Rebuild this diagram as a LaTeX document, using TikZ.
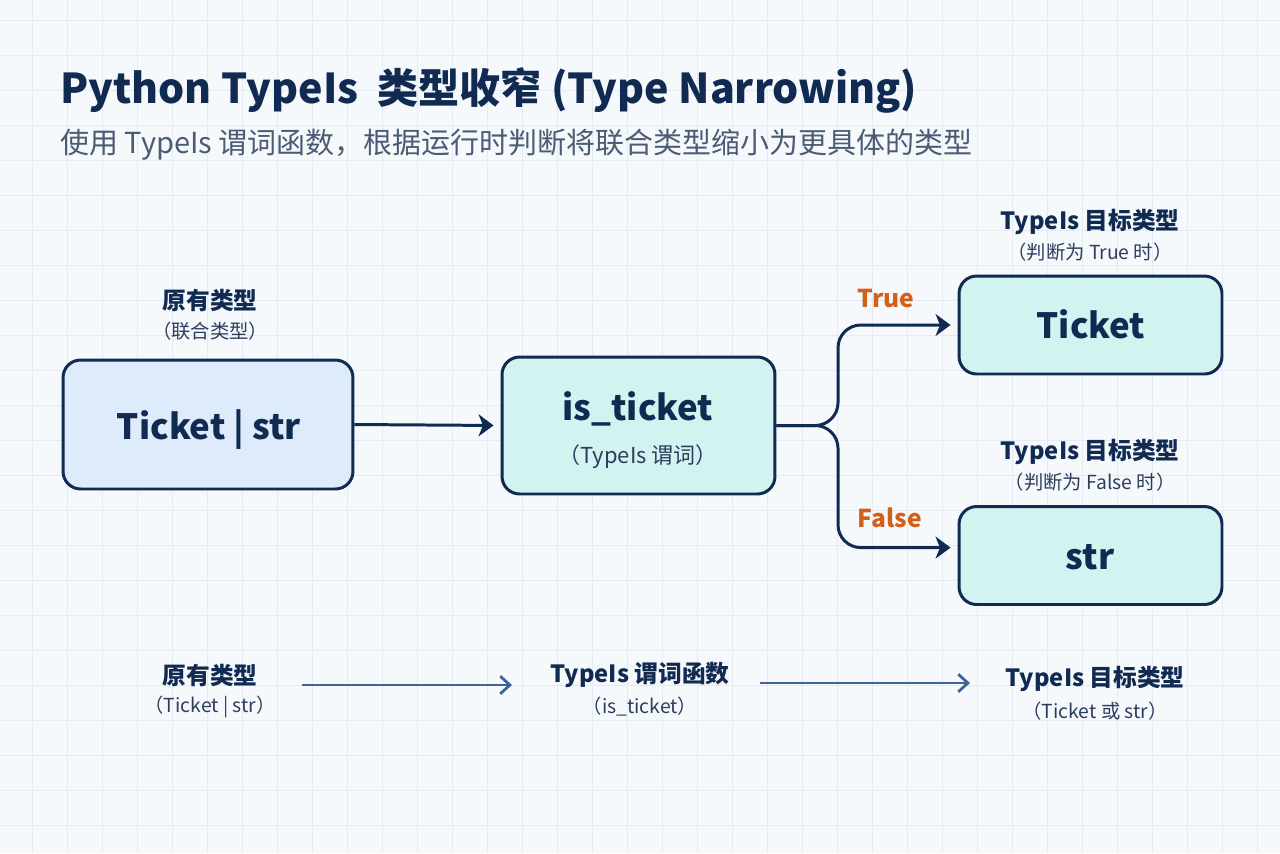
\documentclass[tikz,border=0pt]{standalone}
\usepackage{fontspec}
\setmainfont{Noto Sans CJK SC}
\usetikzlibrary{arrows.meta}
\definecolor{navy}{HTML}{102A52}
\definecolor{subgray}{HTML}{4B5B74}
\definecolor{notegray}{HTML}{2C3E5E}
\definecolor{bluefill}{HTML}{DDEBFB}
\definecolor{cyanfill}{HTML}{D3F3F1}
\definecolor{orangetxt}{HTML}{D2601A}
\definecolor{flowblue}{HTML}{42639A}
\definecolor{bgcol}{HTML}{F6F9FC}
\definecolor{gridcol}{HTML}{E4EBF4}

\begin{document}
\begin{tikzpicture}[x=0.02cm,y=-0.02cm]
        \tikzset{box/.style={draw=navy,line width=1.7pt,rounded corners=10pt,inner sep=0pt},
            typebox/.style={box,fill=bluefill,minimum width=5.8cm,minimum height=2.58cm},
            predbox/.style={box,fill=cyanfill,minimum width=5.46cm,minimum height=2.74cm},
            targetbox/.style={box,fill=cyanfill,minimum width=5.26cm,minimum height=1.96cm},
            boxtext/.style={text=navy,font=\fontsize{19.8}{24}\selectfont\bfseries,inner sep=0pt},
            head/.style={text=navy,font=\fontsize{13.5}{16}\selectfont\bfseries,inner sep=0pt},
            note/.style={text=notegray,font=\fontsize{11}{13}\selectfont,inner sep=0pt},
            branch/.style={text=orangetxt,font=\fontsize{14}{16}\selectfont\bfseries,inner sep=0pt},
            flow/.style={draw=navy,line width=1.7pt,-{Stealth[length=8.5pt,width=12.5pt,inset=2.5pt]}},
            thinflow/.style={draw=flowblue,line width=1.6pt,-{Straight Barb[length=5.5pt,width=10pt,line width=1.6pt]}},
            gridline/.style={draw=gridcol,line width=0.4pt}}

        % background and grid
        \fill[bgcol] (0,0) rectangle (1280,853);
        \useasboundingbox (0,0) rectangle (1280,853);
        \foreach \gx in {32,67,...,1280}
            \draw[gridline] (\gx,0) -- (\gx,853);
        \foreach \gy in {20,55,...,853}
            \draw[gridline] (0,\gy) -- (1280,\gy);

        % title
        \node[anchor=base west,inner sep=0pt,text=navy,font=\fontsize{23.4}{28}\selectfont\bfseries]
            (title) at (60,103) {Python TypeIs\ \ 类型收窄 (Type Narrowing)};
        \node[anchor=west,inner sep=0pt,text=subgray,font=\fontsize{16.5}{20}\selectfont]
            (subtitle) at (60,145) {使用 TypeIs 谓词函数，根据运行时判断将联合类型缩小为更具体的类型};

        % boxes
        \node[typebox] (union) at (208,424.5) {};
        \node[predbox] (pred) at (638.5,425.5) {};
        \node[targetbox] (yes) at (1090.5,325) {};
        \node[targetbox] (no) at (1090.5,555.5) {};

        \node[boxtext,anchor=base] (uniontxt) at (209,439) {Ticket | str};
        \node[boxtext,anchor=base] (predtxt) at (638,420) {is\_ticket};
        \node[note,anchor=base,font=\fontsize{12.5}{14}\selectfont] (prednote) at (638,463) {（TypeIs 谓词）};
        \node[boxtext,anchor=base] (yestxt) at (1091,338) {Ticket};
        \node[boxtext,anchor=base] (notxt) at (1090,569) {str};

        % labels above the boxes
        \node[head] (unionhead) at (210,300) {原有类型};
        \node[note] (unionnote) at (210,331) {（联合类型）};
        \node[head] (yeshead) at (1090,222) {TypeIs 目标类型};
        \node[note] (yesnote) at (1090,252) {（判断为 True 时）};
        \node[head] (nohead) at (1090,452) {TypeIs 目标类型};
        \node[note] (nonote) at (1090,482) {（判断为 False 时）};
        \node[branch] (truelbl) at (886,298) {True};
        \node[branch] (falselbl) at (890,518) {False};

        % connectors
        \coordinate (split) at (838,425);
        \draw[flow,shorten >=4pt] (union.east) -- (pred.west);
        \draw[flow,rounded corners=13pt,shorten >=4pt] (pred.east) -- (pred.east -| split) |- (yes.west);
        \draw[flow,rounded corners=13pt,shorten >=4pt] (pred.east) -- (pred.east -| split) |- ([yshift=4.5pt]no.west);

        % summary row
        \node[head] (srchead) at (210,675) {原有类型};
        \node[note] (srcnote) at (210,707) {（Ticket | str）};
        \node[head] (fnhead) at (640,675) {TypeIs 谓词函数};
        \node[note] (fnnote) at (640,707) {（is\_ticket）};
        \node[head] (dsthead) at (1095,679) {TypeIs 目标类型};
        \node[note] (dstnote) at (1095,711) {（Ticket 或 str）};
        \coordinate (s1) at (302,685);
        \coordinate (e1) at (512,685);
        \coordinate (s2) at (760,683);
        \coordinate (e2) at (970,683);
        \draw[thinflow] (s1) -- (e1);
        \draw[thinflow] (s2) -- (e2);
\end{tikzpicture}
\end{document}
